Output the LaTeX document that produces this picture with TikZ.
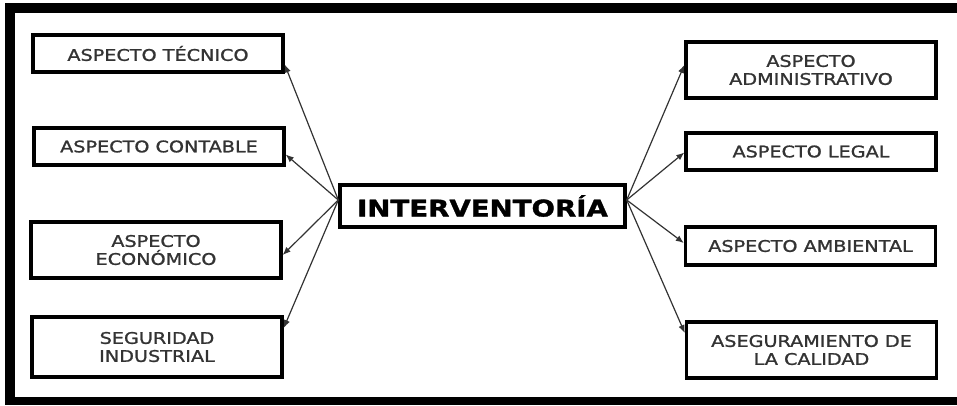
\documentclass[tikz,border=0pt]{standalone}
\usepackage{fontspec}
\setmainfont{DejaVu Sans}[FakeStretch=1.2]
\usepackage{tikz}
\usetikzlibrary{arrows.meta}
\tikzset{aspecto/.style = {shape=rectangle,draw,line width=3.4pt,fill=white,text=black!80,
        minimum width=250pt,align=center,
        font=\fontsize{16}{18}\selectfont\addfontfeature{FakeBold=1.2}}}
\tikzset{centro/.style = {shape=rectangle,draw,line width=3.4pt,fill=white,
        minimum width=285pt,minimum height=42pt,
        font=\fontsize{23}{26}\selectfont\bfseries\addfontfeature{FakeBold=1.5}}}
\tikzset{edge/.style = {-{Latex[length=8pt,width=6.5pt]},line width=1.2pt,black!80}}

\begin{document}
\begin{tikzpicture}[x=1pt,y=-1pt]
    \useasboundingbox (0,0) rectangle (957,405);
    % marco
    \fill[black] (5,3) rectangle (957,12.5);
    \fill[black] (5,3) rectangle (15,405);
    \fill[black] (5,397) rectangle (957,405);

    \node[centro] (int) at (482.5,206) {INTERVENTORÍA};

    \node[aspecto, minimum height=37pt] (tec) at (158,53.5) {ASPECTO TÉCNICO};
    \node[aspecto, minimum height=37pt] (con) at (159,146.5) {ASPECTO CONTABLE};
    \node[aspecto, minimum height=56pt] (eco) at (156,250) {ASPECTO\\ECONÓMICO};
    \node[aspecto, minimum height=60pt] (seg) at (157,347) {SEGURIDAD\\INDUSTRIAL};

    \node[aspecto, minimum height=56pt] (adm) at (811,70) {ASPECTO\\ADMINISTRATIVO};
    \node[aspecto, minimum height=37pt] (leg) at (811,151.5) {ASPECTO LEGAL};
    \node[aspecto, minimum height=38pt] (amb) at (810.5,246) {ASPECTO AMBIENTAL};
    \node[aspecto, minimum height=56pt] (cal) at (811.5,350) {ASEGURAMIENTO DE\\LA CALIDAD};

    \draw[edge] ([yshift=6pt]int.west) -- ([yshift=-11pt]tec.east);
    \draw[edge] ([yshift=6pt]int.west) -- ([yshift=-8pt]con.east);
    \draw[edge] ([yshift=6pt]int.west) -- ([yshift=-5pt]eco.east);
    \draw[edge] ([yshift=6pt]int.west) -- ([yshift=19pt]seg.east);

    \draw[edge] ([yshift=6pt]int.east) -- ([yshift=5pt]adm.west);
    \draw[edge] ([yshift=6pt]int.east) -- ([yshift=-1pt]leg.west);
    \draw[edge] ([yshift=6pt]int.east) -- ([yshift=3pt]amb.west);
    \draw[edge] ([yshift=6pt]int.east) -- ([yshift=17pt]cal.west);
\end{tikzpicture}
\end{document}
